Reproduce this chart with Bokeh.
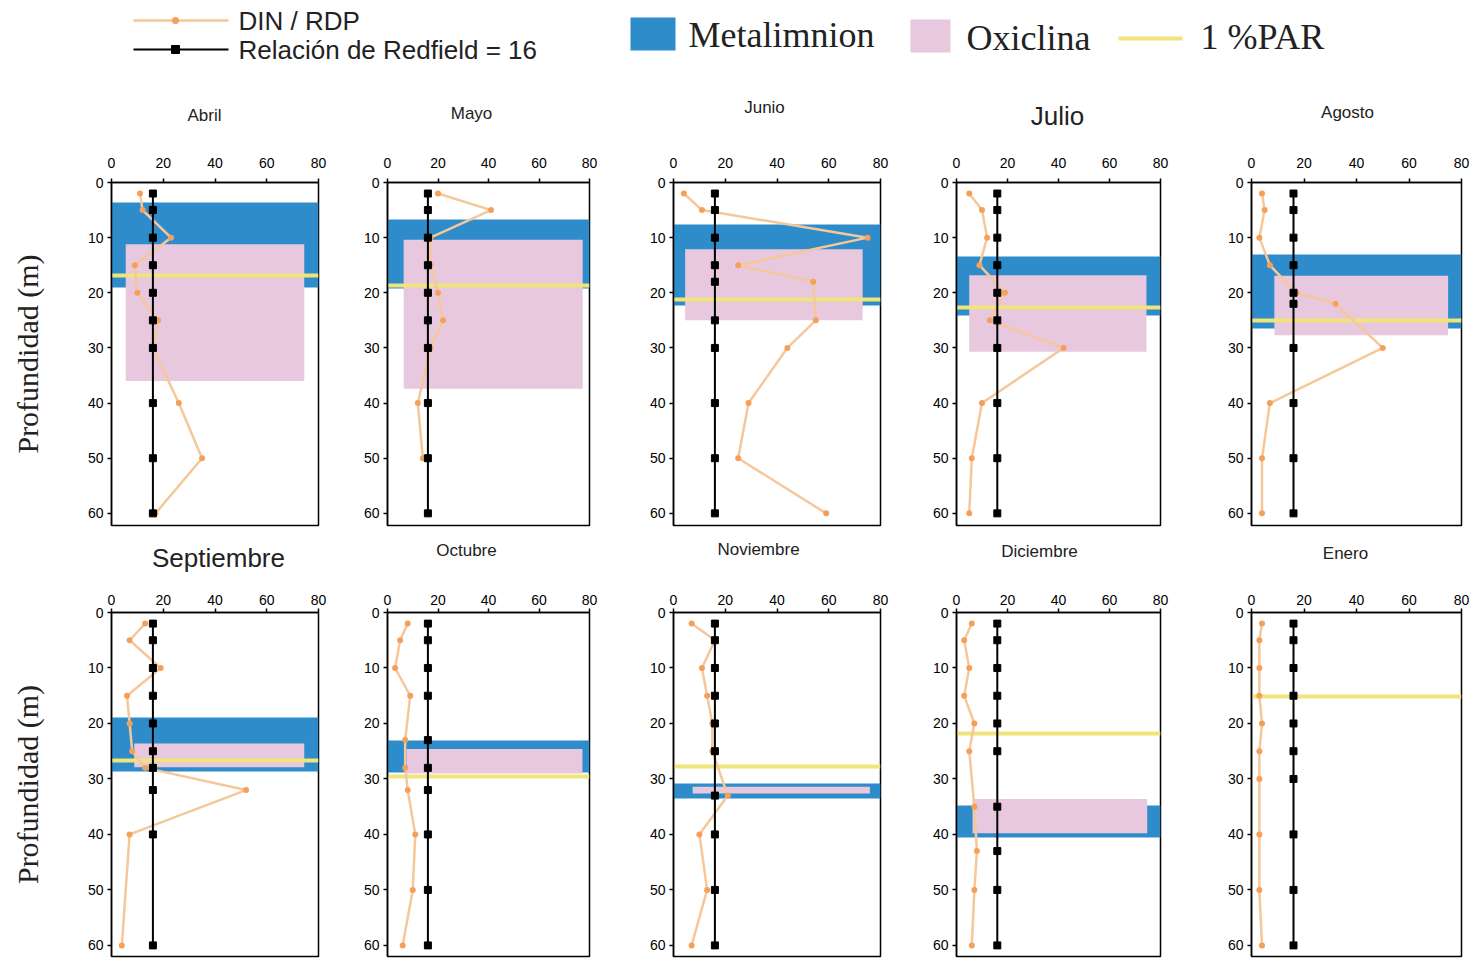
from bokeh.plotting import figure
from bokeh.layouts import column, row
from bokeh.models import Range1d, FixedTicker, ColumnDataSource
from bokeh.embed import file_html
from bokeh.resources import INLINE
from bokeh.core.properties import value

NAN = float("nan")

# ---------------- data ----------------
months = ["Abril", "Mayo", "Junio", "Julio", "Agosto",
          "Septiembre", "Octubre", "Noviembre", "Diciembre", "Enero"]

depth_abril = [2, 5, 10, 15, 20, 25, 30, 40, 50, 60]
din_abril = [11, 12, 23, 9, 10, 18, 16, 26, 35, 17]
depth_mayo = [2, 5, 10, 15, 20, 25, 30, 40, 50, 60]
din_mayo = [20, 41, 17, 17, 20, 22, 17, 12, 14, NAN]
depth_junio = [2, 5, 10, 15, 18, 25, 30, 40, 50, 60]
din_junio = [4, 11, 75, 25, 54, 55, 44, 29, 25, 59]
depth_julio = [2, 5, 10, 15, 20, 25, 30, 40, 50, 60]
din_julio = [5, 10, 12, 9, 19, 13, 42, 10, 6, 5]
depth_agosto = [2, 5, 10, 15, 20, 22, 30, 40, 50, 60]
din_agosto = [4, 5, 3, 7, 17, 32, 50, 7, 4, 4]
depth_septiembre = [2, 5, 10, 15, 20, 25, 28, 32, 40, 60]
din_septiembre = [13, 7, 19, 6, 7, 8, 13, 52, 7, 4]
depth_octubre = [2, 5, 10, 15, 23, 28, 32, 40, 50, 60]
din_octubre = [8, 5, 3, 9, 7, 7, 8, 11, 10, 6]
depth_noviembre = [2, 5, 10, 15, 20, 25, 33, 40, 50, 60]
din_noviembre = [7, 16, 11, 13, 15, 15, 21, 10, 13, 7]
depth_diciembre = [2, 5, 10, 15, 20, 25, 35, 43, 50, 60]
din_diciembre = [6, 3, 5, 3, 7, 5, 7, 8, 7, 6]
depth_enero = [2, 5, 10, 15, 20, 25, 30, 40, 50, 60]
din_enero = [4, 3, 3, 3, 4, 3, 3, 3, 3, 4]

redfield_ratio = 16

# metalimnion (depth range, m) -- None when absent
meta_top = [3.6, 6.7, 7.6, 13.5, 13.0, 18.9, 23.1, 30.9, 34.8, None]
meta_bottom = [19.0, 19.3, 22.3, 24.1, 26.5, 28.6, 28.8, 33.6, 40.5, None]
# oxiclina (depth range and x extent)
oxi_top = [11.2, 10.4, 12.1, 16.8, 16.9, 23.6, 24.6, 31.4, 33.6, None]
oxi_bottom = [36.0, 37.4, 25.0, 30.7, 27.7, 27.9, 29.0, 32.6, 39.8, None]
oxi_left = [5.5, 6.4, 4.5, 5.0, 8.7, 8.8, 7.5, 7.4, 6.3, None]
oxi_right = [74.5, 77.3, 73.1, 74.5, 74.9, 74.5, 77.2, 75.9, 74.8, None]
# depth of 1 % PAR
par_depth = [16.9, 18.7, 21.3, 22.7, 25.0, 26.6, 29.5, 27.7, 21.8, 15.1]

x_ticks = [0, 20, 40, 60, 80]
y_ticks = [0, 10, 20, 30, 40, 50, 60]

profiles = [
    (depth_abril, din_abril), (depth_mayo, din_mayo), (depth_junio, din_junio),
    (depth_julio, din_julio), (depth_agosto, din_agosto),
    (depth_septiembre, din_septiembre), (depth_octubre, din_octubre),
    (depth_noviembre, din_noviembre), (depth_diciembre, din_diciembre),
    (depth_enero, din_enero),
]

# ---------------- styles / layout ----------------
BLUE = "#2e8ccb"
PINK = "#e7c8de"
YELLOW = "#f0e47a"
ORANGE_LINE = "#f5c79a"
ORANGE_MARK = "#f5a05a"
SANS = "Liberation Sans"
SERIF = "Liberation Serif"
TOTAL_W = 1471

col_width = [352, 279, 287, 287, 266]
col_left = [111, 35, 42, 38, 46]
col_right = [34, 42, 38, 45, 10]

row_cfg = [
    dict(height=393, top=40, bottom=10, ymax=62.2, label_standoff=11),
    dict(height=389, top=40, bottom=5, ymax=62.0, label_standoff=4),
]

# title placement (pixel position inside the strip above each row)
title_x = [204, 471, 764, 1057, 1347, 218, 466, 758, 1039, 1345]
title_y = [115, 113, 107, 115, 112, 22, 15, 14, 16, 18]
title_size = ["17px", "17px", "17px", "26px", "17px",
              "26px", "17px", "17px", "17px", "17px"]


def strip(height):
    f = figure(width=TOTAL_W, height=height, x_range=Range1d(0, TOTAL_W),
               y_range=Range1d(height, 0), x_axis_type=None, y_axis_type=None,
               output_backend="svg", toolbar_location=None, min_border=0)
    f.outline_line_color = None
    f.xgrid.visible = False
    f.ygrid.visible = False
    return f


def add_titles(f, idx):
    for i in idx:
        f.text([title_x[i]], [title_y[i]], text=[months[i]],
               text_font=value(SANS), text_font_size=title_size[i],
               text_align="center", text_baseline="middle", text_color="#222222")


def make_panel(i):
    r = i // 5
    c = i % 5
    cfg = row_cfg[r]
    p = figure(width=col_width[c], height=cfg["height"],
               x_range=Range1d(0, 80), y_range=Range1d(cfg["ymax"], 0),
               x_axis_location="above", output_backend="svg",
               toolbar_location=None,
               min_border_left=col_left[c], min_border_right=col_right[c],
               min_border_top=cfg["top"], min_border_bottom=cfg["bottom"])
    p.xgrid.visible = False
    p.ygrid.visible = False
    p.outline_line_color = "black"
    p.outline_line_width = 1.5
    p.background_fill_color = "white"
    p.border_fill_color = "white"

    for ax in (p.xaxis[0], p.yaxis[0]):
        ax.axis_line_width = 1.5
        ax.axis_line_color = "black"
        ax.major_tick_line_width = 1.5
        ax.major_tick_in = 0
        ax.major_tick_out = 4
        ax.minor_tick_line_color = None
        ax.major_label_text_font = SANS
        ax.major_label_text_font_size = "14px"
        ax.major_label_text_color = "black"
    p.xaxis[0].ticker = FixedTicker(ticks=x_ticks)
    p.yaxis[0].ticker = FixedTicker(ticks=y_ticks)
    p.xaxis[0].major_label_standoff = cfg["label_standoff"]
    p.yaxis[0].major_label_standoff = 4

    if c == 0:
        p.yaxis[0].axis_label = "Profundidad (m)"
        p.yaxis[0].axis_label_text_font = SERIF
        p.yaxis[0].axis_label_text_font_size = "30px"
        p.yaxis[0].axis_label_text_font_style = "normal"
        p.yaxis[0].axis_label_text_color = "#222222"
        p.yaxis[0].axis_label_standoff = 41

    # metalimnion band
    if meta_top[i] is not None:
        p.hstrip(y0=[meta_top[i]], y1=[meta_bottom[i]],
                 fill_color=BLUE, line_color=None)
    # oxiclina box
    if oxi_top[i] is not None:
        p.quad(left=[oxi_left[i]], right=[oxi_right[i]],
               top=[oxi_top[i]], bottom=[oxi_bottom[i]],
               fill_color=PINK, line_color=None)
    # 1 % PAR
    p.hspan(y=[par_depth[i]], line_color=YELLOW, line_width=4)

    d, v = profiles[i]
    src = ColumnDataSource(dict(depth=d, din=v,
                                red=[redfield_ratio] * len(d)))
    p.line("din", "depth", source=src, line_color=ORANGE_LINE, line_width=2.5)
    p.scatter("din", "depth", source=src, marker="circle", size=6,
              fill_color=ORANGE_MARK, line_color=None)
    p.line("red", "depth", source=src, line_color="black", line_width=2)
    p.scatter("red", "depth", source=src, marker="square", size=7,
              fill_color="black", line_color="black")
    return p


panels = [make_panel(i) for i in range(10)]

# ---------------- legend + titles strip (top) ----------------
top_strip = strip(142)
top_strip.line([133, 228], [20, 20], line_color=ORANGE_LINE, line_width=2.5)
top_strip.scatter([175], [20], marker="circle", size=7, fill_color=ORANGE_MARK, line_color=None)
top_strip.line([133, 228], [49, 49], line_color="black", line_width=2)
top_strip.scatter([175], [49], marker="square", size=8, fill_color="black", line_color="black")
top_strip.text([238, 238], [20, 49], text=["DIN / RDP", "Relación de Redfield = 16"],
               text_font=value(SANS), text_font_size="26px", text_baseline="middle",
               text_color="#222222")
top_strip.quad(left=[630], right=[675], top=[17], bottom=[50], fill_color=BLUE, line_color=None)
top_strip.quad(left=[910], right=[950], top=[19], bottom=[52], fill_color=PINK, line_color=None)
top_strip.line([1118, 1182], [38, 38], line_color=YELLOW, line_width=4)
top_strip.text([688, 966, 1200], [34, 37, 36], text=["Metalimnion", "Oxiclina", "1 %PAR"],
               text_font=value(SERIF), text_font_size="36px", text_baseline="middle",
               text_color="#222222")
add_titles(top_strip, range(0, 5))

mid_strip = strip(37)
add_titles(mid_strip, range(5, 10))

layout = column(top_strip, row(*panels[:5]), mid_strip, row(*panels[5:]))

open("out.html", "w").write(file_html(layout, INLINE))
